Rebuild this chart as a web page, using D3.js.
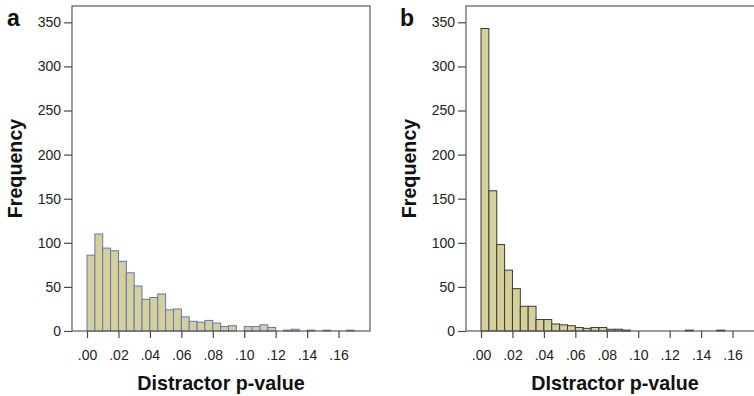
<!DOCTYPE html>
<html>
<head>
<meta charset="utf-8">
<script src="https://cdn.jsdelivr.net/npm/d3@7"></script>
<style>
  body { margin: 0; background: #fff; }
  svg { display: block; font-family: "Liberation Sans", Arial, sans-serif; }
</style>
</head>
<body>
<svg id="chart" width="754" height="396"></svg>
<script>
// bin width of the histograms (p-value units)
const binWidth = 0.005;

// counts per bin, starting at 0.00 - panel a
const countsA = [86, 110, 94, 91, 79, 66, 51, 36, 38, 42, 24, 25, 16, 11, 10, 12, 9, 5, 6, 0,
                 5, 5, 7, 4, 0, 1, 2, 0, 1, 0, 1, 0, 0, 1];
// counts per bin - panel b
const countsB = [343, 159, 98, 69, 48, 28, 28, 13, 13, 8, 7, 6, 4, 3, 4, 4, 2, 2, 1, 0,
                 0, 0, 0, 0, 0, 0, 1, 0, 0, 0, 1];

const xTicks = [0, 0.02, 0.04, 0.06, 0.08, 0.10, 0.12, 0.14, 0.16];
const yTicks = [0, 50, 100, 150, 200, 250, 300, 350];

const svg = d3.select("#chart");

// one histogram panel
function drawPanel(opts) {
  const left = opts.left, right = opts.left + 298;
  const top = 6, bottom = 331;

  const x = d3.scaleLinear().domain([-0.00955, 0.18]).range([left, right]);
  const y = d3.scaleLinear().domain([0, 368.5]).range([bottom, top]);

  const g = svg.append("g");

  // bars
  g.selectAll("rect.bar")
    .data(opts.counts.map((c, i) => ({ i: i, c: c })).filter(d => d.c > 0))
    .enter().append("rect")
    .attr("class", "bar")
    .attr("x", d => x(d.i * binWidth))
    .attr("width", d => x((d.i + 1) * binWidth) - x(d.i * binWidth))
    .attr("y", d => y(d.c))
    .attr("height", d => y(0) - y(d.c))
    .style("fill", "#d5d09a")
    .style("stroke", opts.stroke)
    .style("stroke-width", 1);

  // frame around the plot
  g.append("rect")
    .attr("x", left)
    .attr("y", top)
    .attr("width", right - left)
    .attr("height", bottom - top)
    .style("fill", "none")
    .style("stroke", "#5a5a5a")
    .style("stroke-width", 1.2);

  // y axis
  const yAxis = g.append("g")
    .attr("transform", "translate(" + left + ",0)")
    .call(d3.axisLeft(y).tickValues(yTicks).tickSize(8).tickPadding(3));
  yAxis.select(".domain").remove();

  // x axis
  const xAxis = g.append("g")
    .attr("transform", "translate(0," + bottom + ")")
    .call(d3.axisBottom(x).tickValues(xTicks).tickSize(7).tickPadding(12)
      .tickFormat(d => d3.format(".2f")(d).replace(/^0/, "")));
  xAxis.select(".domain").remove();

  g.selectAll(".tick line").style("stroke", "#4a4a4a").style("stroke-width", 1.2);
  g.selectAll(".tick text")
    .style("font-size", "14px")
    .style("fill", "#222")
    .style("font-family", "Liberation Sans, Arial, sans-serif");

  // axis titles
  g.append("text")
    .attr("transform", "translate(" + (left - 50) + "," + ((top + bottom) / 2) + ") rotate(-90)")
    .attr("text-anchor", "middle")
    .style("font-size", "19.7px")
    .style("font-weight", "bold")
    .style("fill", "#111")
    .text("Frequency");

  g.append("text")
    .attr("x", (left + right) / 2)
    .attr("y", 390)
    .attr("text-anchor", "middle")
    .style("font-size", "19.7px")
    .style("font-weight", "bold")
    .style("fill", "#111")
    .text(opts.xTitle);

  // panel letter
  g.append("text")
    .attr("x", opts.letterX)
    .attr("y", 26)
    .style("font-size", "23px")
    .style("font-weight", "bold")
    .style("fill", "#111")
    .text(opts.letter);
}

drawPanel({ left: 72, counts: countsA, stroke: "#6575bd", xTitle: "Distractor p-value", letter: "a", letterX: 7 });
drawPanel({ left: 466, counts: countsB, stroke: "#3a3a3a", xTitle: "DIstractor p-value", letter: "b", letterX: 400 });
</script>
</body>
</html>
